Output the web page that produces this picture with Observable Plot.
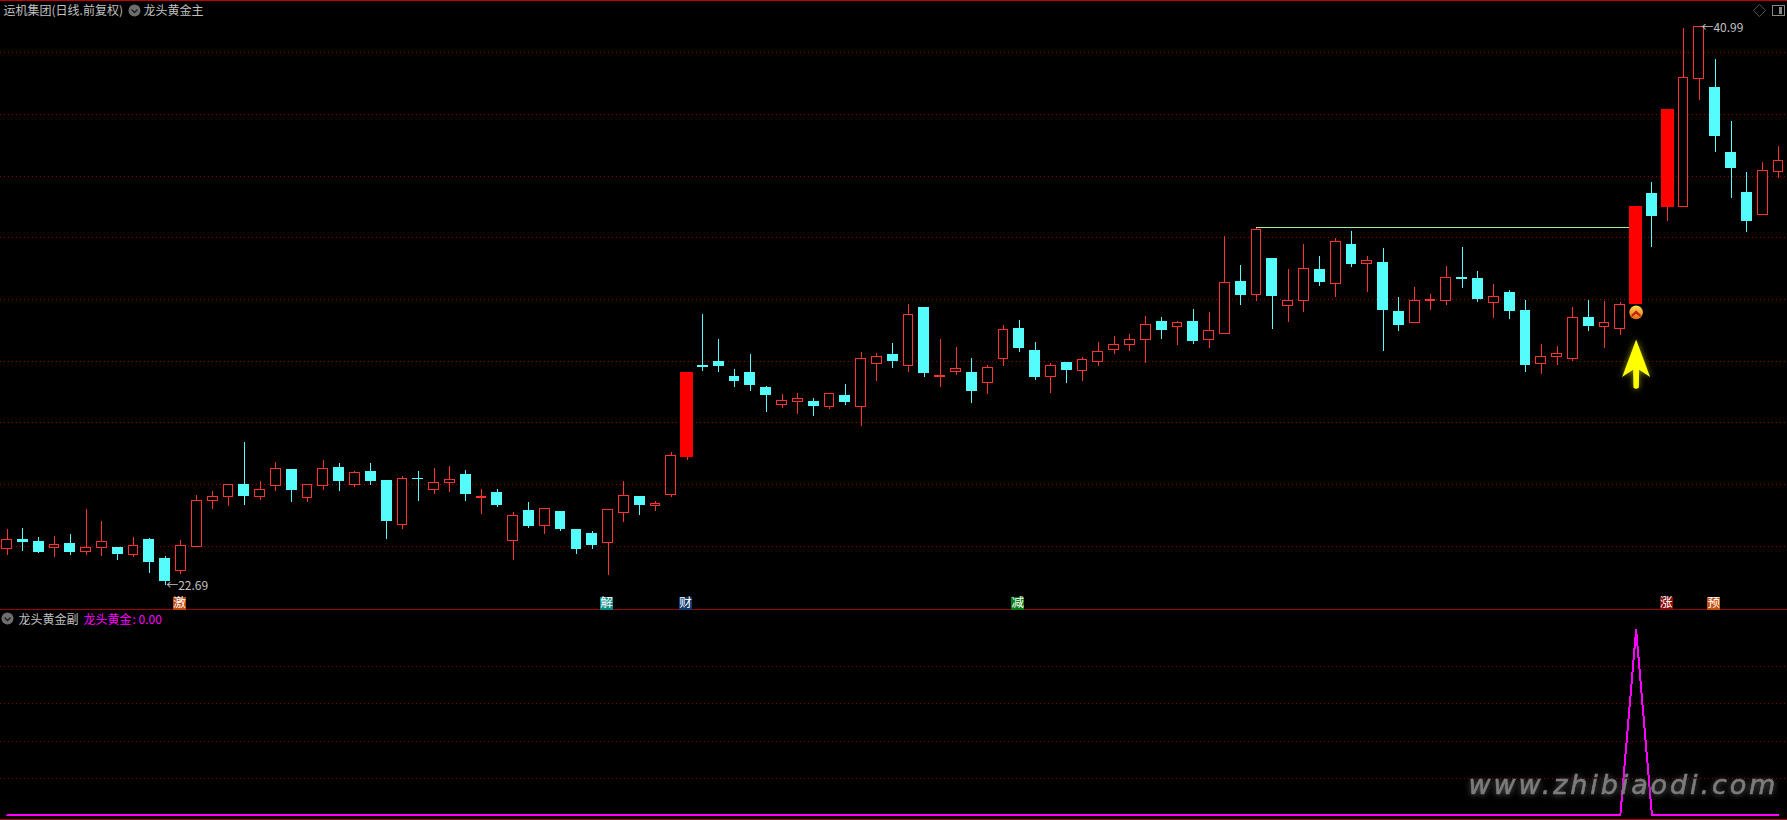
<!DOCTYPE html>
<html>
<head>
<meta charset="utf-8">
<script src="https://cdn.jsdelivr.net/npm/d3@7"></script>
<script src="https://cdn.jsdelivr.net/npm/@observablehq/plot@0.6"></script>
<style>
html,body{margin:0;padding:0;background:#000;overflow:hidden}
svg{display:block;shape-rendering:crispEdges}
.watermark text{letter-spacing:2.9px;filter:drop-shadow(0 1px 3px #555)}
.arrow{filter:drop-shadow(0 0 3px rgba(255,255,0,.55))}
.smooth,.smooth *,.arrow,.arrow *{shape-rendering:geometricPrecision}
</style>
</head>
<body>
<div id="chart"></div>
<script>
const opens = [23.88,24.19,24.10,23.93,24.06,23.77,23.91,23.93,23.70,24.19,23.57,23.15,23.96,25.47,25.60,25.99,25.60,25.96,26.48,25.54,
25.96,26.55,25.99,26.39,26.12,24.68,26.19,25.81,26.03,26.29,25.55,25.73,24.14,25.14,24.63,25.08,24.49,24.36,24.07,25.06,
25.60,25.28,25.64,26.88,29.86,29.99,29.53,29.63,29.17,28.61,28.71,28.71,28.53,28.88,28.53,29.93,30.25,29.87,31.76,29.50,
29.69,29.66,29.31,30.10,31.07,30.35,29.51,29.96,29.70,30.00,30.39,30.56,30.72,31.30,31.15,31.30,30.72,30.92,32.61,32.19,
33.39,31.83,32.00,33.03,32.55,33.82,33.21,33.26,31.63,31.27,32.00,32.00,32.74,32.71,31.93,32.25,31.66,29.93,30.16,30.10,
31.43,31.15,31.08,31.88,35.49,35.07,35.07,39.26,38.99,36.86,35.55,34.81,36.22];
const highs = [24.52,24.55,24.26,24.29,24.36,25.18,24.78,23.93,24.26,24.23,23.64,24.16,25.63,25.76,25.99,27.37,26.09,26.71,26.48,25.98,
26.78,26.68,26.42,26.68,26.12,26.26,26.42,26.52,26.58,26.45,25.83,25.83,25.08,25.40,25.20,25.08,24.52,24.46,25.16,26.09,
25.60,25.44,27.04,29.66,31.56,30.74,29.76,30.25,29.20,28.94,28.97,28.81,28.96,29.27,30.32,30.28,30.61,31.89,31.76,30.74,
30.48,30.12,29.89,31.20,31.36,30.64,29.96,29.96,30.15,30.64,30.84,30.90,31.49,31.46,31.33,31.72,31.63,34.11,33.16,34.36,
33.39,33.03,33.85,33.46,34.04,34.28,33.46,33.72,32.12,32.44,32.21,33.13,33.75,32.97,32.54,32.35,32.02,30.58,30.51,31.79,
32.02,31.99,31.95,35.10,35.88,38.27,40.92,40.99,39.91,37.88,36.21,36.54,37.06];
const lows = [23.67,23.80,23.73,23.60,23.67,23.67,23.64,23.51,23.60,23.08,22.69,23.05,23.96,25.18,25.27,25.31,25.47,25.76,25.40,25.40,
25.80,25.76,25.90,25.96,24.19,24.52,25.44,25.67,25.73,25.44,25.01,25.24,23.51,24.55,24.36,24.46,23.70,23.87,23.01,24.75,
24.98,25.11,25.57,26.78,29.69,29.66,29.17,29.04,28.35,28.48,28.29,28.22,28.45,28.58,27.89,29.37,29.79,29.66,29.50,29.17,
29.56,28.65,28.94,29.86,30.32,29.40,28.97,29.30,29.37,29.86,30.25,30.35,29.96,30.74,30.55,30.58,30.45,30.92,31.85,31.99,
31.07,31.30,31.63,32.48,32.12,33.10,32.28,30.35,31.00,31.27,31.69,31.85,32.41,31.95,31.43,31.40,29.66,29.60,29.89,30.02,
31.00,30.45,30.87,31.88,33.75,34.61,35.07,38.57,36.86,35.36,34.24,34.81,36.01];
const closes = [24.18,24.10,23.80,24.02,23.77,23.92,24.12,23.73,23.99,23.47,22.82,23.99,25.46,25.59,25.98,25.63,25.82,26.51,25.80,25.98,
26.51,26.12,26.38,26.12,24.81,26.18,26.16,26.05,26.15,25.70,25.59,25.31,24.97,24.65,25.20,24.55,23.87,24.03,25.16,25.62,
25.31,25.36,26.93,29.66,29.83,29.86,29.37,29.24,28.91,28.73,28.80,28.55,28.96,28.68,30.11,30.17,30.05,31.55,29.63,29.56,
29.76,29.04,29.81,31.06,30.45,29.53,29.88,29.73,30.08,30.34,30.57,30.73,31.22,31.04,31.29,30.68,31.03,32.60,32.21,34.33,
32.18,32.01,33.06,32.64,33.94,33.20,33.32,31.72,31.23,32.01,32.05,32.76,32.71,32.08,32.14,31.66,29.92,30.17,30.27,31.45,
31.17,31.29,31.88,35.10,34.77,38.27,39.31,40.98,37.39,36.37,34.61,36.26,36.59];
const boardDays = [43,103,105];
const gridPrices = [40.14,38.12,36.09,34.07,32.05,30.03,28.01,25.99,23.96];
const gridLevels = [0.8,0.6,0.4,0.2];
const indicator = [0,0,0,0,0,0,0,0,0,0,0,0,0,0,0,0,0,0,0,0,0,0,0,0,0,0,0,0,0,0,0,0,0,0,0,0,0,0,
0,0,0,0,0,0,0,0,0,0,0,0,0,0,0,0,0,0,0,0,0,0,0,0,0,0,0,0,0,0,0,0,0,0,0,0,0,0,
0,0,0,0,0,0,0,0,0,0,0,0,0,0,0,0,0,0,0,0,0,0,0,0,0,0,0,1,0,0,0,0,0,0,0,0,0];
const signalDays = [11,38,43,64,105,108];
const signalText = ["激","解","财","减","涨","预"];
const signalFill = ["#c24a10","#0b8a86","#123a6e","#0b7a14","#8a0808","#c4500f"];
const resistance = [{i:79,p:34.41},{i:103,p:34.41}];

const candles = opens.map((o,i)=>({i,o,h:highs[i],l:lows[i],c:closes[i],up:closes[i]>=opens[i],board:boardDays.includes(i)}));
const signals = signalDays.map((i,k)=>({i,t:signalText[k],f:signalFill[k]}));
const series = indicator.map((v,i)=>({i,v}));

const RED="#ff3232", CYAN="#54fcfc", GRID="#960000", TEXT="#c0c0c0";
const FONT="'Noto Sans CJK SC','Noto Sans',sans-serif";
const xScale={domain:[-0.411,112.57],range:[0,1787],axis:null};

const arrowSym={draw(c){c.moveTo(0,-24);c.lineTo(14,13.7);c.lineTo(3,6.3);c.lineTo(2.7,24);c.quadraticCurveTo(0,26.5,-2.7,24);c.lineTo(-3,6.3);c.lineTo(-14,13.7);c.closePath();}};
const chevUp={draw(c){c.moveTo(-4.5,2.5);c.lineTo(0,-2);c.lineTo(4.5,2.5);c.lineTo(4.5,5);c.lineTo(0,1.5);c.lineTo(-4.5,5);c.closePath();}};
const chevDown={draw(c){c.moveTo(-3,-1);c.lineTo(0,2);c.lineTo(3,-1);}};
const panelIcon={draw(c){c.rect(-6,-5,12,10);}};
const panelBar={draw(c){c.rect(0,-3.5,3,7);}};

function hdr(t,dx,dy,fill=TEXT){return Plot.text([t],{frameAnchor:"top-left",dx,dy,fill,fontSize:12,fontFamily:FONT,lineAnchor:"top",textAnchor:"start"});}
function badge(dx,dy){return [
  Plot.dot([0],{frameAnchor:"top-left",dx,dy,r:6,fill:"#6e6e6e",className:"smooth"}),
  Plot.dot([0],{frameAnchor:"top-left",dx,dy,symbol:chevDown,r:6,fill:"none",stroke:"#1a1a1a",strokeWidth:1.3,className:"smooth"})
];}

const upperPlot=Plot.plot({
  width:1787,height:610,margin:0,
  style:{background:"#000",display:"block"},
  x:xScale,
  y:{domain:[21.87,41.84],range:[610,0],axis:null},
  marks:[
    Plot.ruleY(gridPrices,{stroke:GRID,strokeDasharray:"1 3",strokeWidth:1}),
    Plot.ruleY([41.84],{stroke:"#c00000",strokeWidth:1}),
    Plot.ruleY([21.87],{dy:-1,stroke:"#a00000",strokeWidth:1}),
    Plot.ruleX(candles,{x:"i",y1:"l",y2:"h",stroke:d=>d.up?RED:CYAN,strokeWidth:1}),
    Plot.rect(candles.filter(d=>!d.board),{x1:d=>d.i-0.31,x2:d=>d.i+0.31,y1:"o",y2:"c",fill:d=>d.up?"#000":CYAN,stroke:d=>d.up?RED:CYAN,strokeWidth:1}),
    Plot.line(resistance,{x:"i",y:"p",stroke:"#a0f0a0",strokeWidth:1}),
    Plot.rect(candles.filter(d=>d.board),{x1:d=>d.i-0.41,x2:d=>d.i+0.41,y1:"o",y2:"c",fill:"#ff0000"}),
    Plot.dot([{i:103,p:31.63}],{x:"i",y:"p",r:6.8,fill:"url(#coin)",className:"smooth"}),
    Plot.dot([{i:103,p:31.63}],{x:"i",y:"p",symbol:chevUp,r:6,fill:"#c0201c",className:"smooth"}),
    Plot.dot([{i:103,p:29.96}],{x:"i",y:"p",symbol:arrowSym,r:10,fill:"#ffff00",className:"arrow"}),
    Plot.text([{i:10,p:22.69}],{x:"i",y:"p",text:()=>"←22.69",textAnchor:"start",dx:1,dy:1,fill:TEXT,fontSize:12,fontFamily:FONT}),
    Plot.text([{i:107,p:40.99}],{x:"i",y:"p",text:()=>"←40.99",textAnchor:"start",dx:2,dy:2,fill:TEXT,fontSize:12,fontFamily:FONT}),
    Plot.dot(signals,{x:"i",y:()=>22.10,dx:-1.5,symbol:"square",r:7.3,fill:"f"}),
    Plot.text(signals,{x:"i",y:()=>22.10,dx:-1.5,text:"t",fill:"#fff",fontSize:12.5,fontFamily:FONT}),
    hdr("运机集团(日线.前复权)",3,6),
    ...badge(134,10),
    hdr("龙头黄金主",143,6),
    Plot.dot([0],{frameAnchor:"top-left",dx:1759,dy:10,symbol:"diamond2",r:5.5,fill:"none",stroke:"#555",strokeWidth:1,className:"smooth"}),
    Plot.dot([0],{frameAnchor:"top-left",dx:1778,dy:10,symbol:panelIcon,r:6,fill:"none",stroke:"#888",strokeWidth:1}),
    Plot.dot([0],{frameAnchor:"top-left",dx:1778,dy:10,symbol:panelBar,r:6,fill:"#888"})
  ]
});

const lowerPlot=Plot.plot({
  width:1787,height:210,margin:0,
  style:{background:"#000",display:"block"},
  x:xScale,
  y:{domain:[-0.027,1.102],range:[210,0],axis:null},
  marks:[
    Plot.ruleY(gridLevels,{stroke:"#8a0000",strokeDasharray:"1 3",strokeWidth:1}),
    Plot.ruleY([-0.027],{dy:-1,stroke:"#b00000",strokeWidth:1}),
    Plot.line(series,{x:"i",y:"v",stroke:"#ff00ff",strokeWidth:2}),
    ...badge(7,8),
    hdr("龙头黄金副",18,5),
    hdr("龙头黄金",83,5,"#ff00ff"),
    hdr(": 0.00",132,5,"#ff00ff"),
    Plot.text(["www.zhibiaodi.com"],{frameAnchor:"top-left",dx:1468,dy:183,fill:"#7c7c7c",stroke:"#7c7c7c",strokeWidth:0.6,fontSize:27,fontStyle:"italic",fontFamily:"'DejaVu Sans',sans-serif",textAnchor:"start",lineAnchor:"bottom",className:"watermark"})
  ]
});

upperPlot.insertAdjacentHTML("afterbegin",'<defs><linearGradient id="coin" x1="0" y1="0" x2="0" y2="1"><stop offset="0" stop-color="#ffdc50"/><stop offset="1" stop-color="#e86a10"/></linearGradient></defs>');
document.getElementById("chart").append(upperPlot,lowerPlot);
</script>
</body>
</html>
